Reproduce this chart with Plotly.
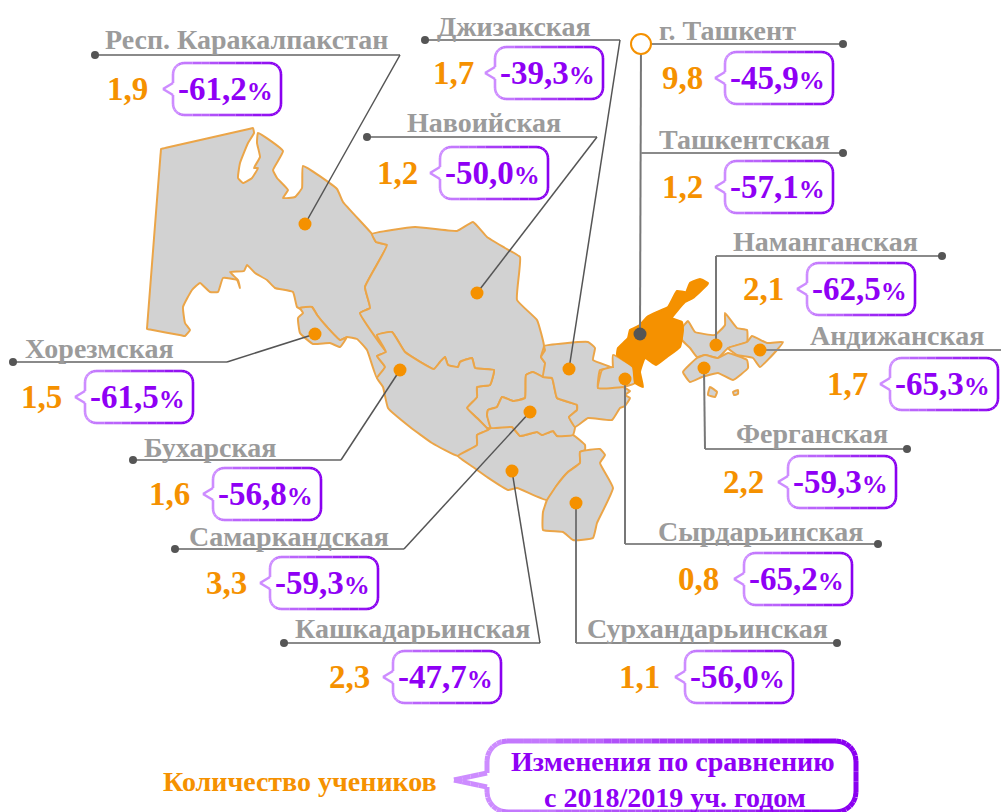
import plotly.graph_objects as go

# ---------- data ----------
regions = ["Респ. Каракалпакстан", "Джизакская", "г. Ташкент", "Ташкентская", "Навоийская",
           "Наманганская", "Андижанская", "Хорезмская", "Ферганская", "Бухарская",
           "Самаркандская", "Сырдарьинская", "Кашкадарьинская", "Сурхандарьинская"]
pupils = ["1,9", "1,7", "9,8", "1,2", "1,2", "2,1", "1,7", "1,5", "2,2", "1,6", "3,3", "0,8", "2,3", "1,1"]
changes = ["-61,2", "-39,3", "-45,9", "-57,1", "-50,0", "-62,5", "-65,3", "-61,5", "-59,3", "-56,8",
           "-59,3", "-65,2", "-47,7", "-56,0"]

# ---------- layout tables (same order as regions) ----------
label_x = [105, 437, 659, 659, 407, 733, 810, 25, 736, 144, 189, 658, 295, 587]
label_y = [39, 26, 30, 139, 122, 241, 335, 348, 433, 447, 536, 531, 628, 628]
value_x = [107, 433, 662, 662, 377, 743, 827, 21, 723, 149, 206, 678, 329, 619]
box_l = [173, 495, 725, 725, 440, 807, 890, 85, 788, 213, 270, 744, 393, 685]
box_t = [63, 47, 52, 161, 147, 263, 358, 371, 456, 468, 557, 553, 651, 651]
BOX_W, BOX_H = 108, 52

leaders = [
    [(95, 55), (400, 55), (305, 224)],
    [(425, 40), (620, 40), (569, 369)],
    [(843, 44), (641, 44), (640, 334)],
    [(843, 153), (641, 153)],
    [(367, 137), (597, 137), (477, 293)],
    [(942, 256), (716, 256), (716, 345)],
    [(1001, 350), (760, 350)],
    [(13, 362), (227, 362), (315, 334)],
    [(907, 449), (705, 449), (704, 368)],
    [(133, 460), (341, 460), (400, 370)],
    [(175, 549), (404, 549), (530, 412)],
    [(878, 544), (625, 544), (625, 379)],
    [(284, 643), (540, 643), (512, 471)],
    [(837, 643), (576, 643), (576, 503)],
]
end_dots_x = [95, 425, 843, 843, 367, 942, 13, 907, 133, 175, 878, 284, 837]
end_dots_y = [55, 40, 44, 153, 137, 256, 362, 449, 460, 549, 544, 643, 643]
map_dots_x = [305, 569, 477, 716, 760, 315, 704, 400, 530, 625, 512, 576]
map_dots_y = [224, 369, 293, 345, 350, 334, 368, 370, 412, 379, 471, 503]

# ---------- map outlines ----------
karakalpak = [(161, 149), (163, 148.5), (166, 147.8), (250, 128.7), (253, 128), (254, 133), (248, 143), (240, 163), (238, 178), (243, 183), (252, 178),
              (258, 168), (254, 168), (260, 157), (257, 143), (258, 133), (283, 151), (273, 170), (277, 178),
              (288, 190), (283, 198), (295, 197), (302, 188), (303, 166), (337, 189), (343, 202), (372, 234),
              (376, 242), (387, 245), (365, 287), (370, 308), (360, 313), (386, 352), (377, 356), (385, 367),
              (377, 378), (367, 350), (357, 339), (347, 337), (340, 340), (327, 327), (317, 315), (312, 307),
              (303, 310), (297, 307), (293, 292), (275, 288), (267, 280), (255, 273), (247, 265), (244, 271),
              (230, 272), (238, 280), (240, 288), (237, 280), (223, 278), (218, 292), (210, 292), (200, 283),
              (192, 290), (183, 307), (185, 323), (190, 330), (185, 336), (181, 335.3), (150, 329.5), (147, 329),
              (147.2, 326), (147.5, 322), (160.5, 155), (160.8, 152)]
khorezm = [(300, 308), (312, 307), (317, 315), (327, 327), (340, 340), (347, 337), (340, 347), (330, 343),
           (313, 344), (300, 333), (298, 318), (303, 313)]
navoi = [(372, 234), (415, 227), (457, 231), (473, 222), (487, 237), (505, 248), (520, 257), (517, 300),
         (537, 320), (544, 346), (541, 357), (545, 363), (543, 377), (533, 372), (526, 375), (525, 398),
         (513, 401), (502, 397), (497, 407), (488, 410), (487, 415), (491, 428), (487, 428), (477, 418),
         (467, 408), (477, 397), (477, 387), (490, 385), (494, 370), (475, 368), (472, 358), (460, 362),
         (458, 367), (448, 365), (445, 357), (440, 362), (434, 369), (405, 352), (392, 332), (377, 335),
         (386, 352), (360, 313), (370, 308), (365, 287), (387, 245), (376, 242)]
bukhara = [(377, 335), (392, 332), (405, 352), (434, 369), (440, 362), (445, 357), (448, 365), (458, 367),
           (460, 362), (472, 358), (475, 368), (494, 370), (490, 385), (477, 387), (477, 397), (467, 408),
           (477, 418), (488, 430), (477, 435), (477, 445), (458, 456), (432, 443), (410, 427), (388, 408),
           (383, 387), (377, 378), (385, 367), (377, 356), (386, 352)]
kashkadarya = [(458, 456), (477, 445), (477, 435), (488, 430), (491, 428), (512, 427), (520, 436), (537, 432),
               (542, 435), (553, 431), (557, 436), (573, 435), (585, 445), (585, 450), (580, 452), (580, 463),
               (568, 472), (557, 485), (547, 500), (517, 488), (508, 490), (487, 477), (473, 467)]
surkhandarya = [(580, 452), (600, 449), (605, 455), (600, 463), (613, 488), (597, 523), (593, 538), (573, 540),
                (563, 532), (543, 530), (543, 512), (547, 500), (557, 485), (568, 472), (580, 463)]
samarkand = [(491, 428), (487, 415), (488, 410), (497, 407), (502, 397), (513, 401), (525, 398), (526, 375),
             (533, 372), (543, 377), (552, 378), (557, 398), (577, 405), (577, 410), (569, 417), (575, 427),
             (573, 435), (557, 436), (553, 431), (542, 435), (537, 432), (520, 436), (512, 427)]
jizzakh = [(544, 346), (588, 342), (595, 348), (593, 360), (613, 368), (600, 370), (598, 388), (618, 385),
           (630, 391), (625, 395), (630, 398), (625, 406), (620, 408), (612, 420), (588, 418), (575, 427),
           (569, 417), (577, 410), (577, 405), (557, 398), (552, 378), (543, 377), (545, 363), (541, 357),
           (545, 350)]
sirdarya = [(613, 355), (633, 367), (635, 383), (623, 387), (598, 388), (602, 370), (613, 367), (613, 368)]
tashkent = [(708, 283), (700, 279), (690, 283), (686, 292), (677, 291), (668, 307), (657, 312), (647, 317),
            (640, 325), (630, 330), (628, 338), (618, 348), (617, 355), (633, 367), (635, 383), (643, 387),
            (640, 372), (645, 358), (656, 365), (667, 357), (680, 347), (683, 330), (682, 322), (672, 318),
            (685, 302), (693, 298), (707, 285)]
namangan = [(682, 328), (688, 321), (695, 332), (715, 335), (725, 325), (725, 313), (737, 328), (747, 330),
            (747, 342), (728, 348), (718, 358), (705, 355), (697, 357), (690, 348), (682, 340)]
andijan = [(728, 348), (747, 342), (752, 336), (767, 343), (783, 342), (777, 350), (760, 367), (753, 358), (737, 355)]
fergana = [(683, 372), (697, 358), (705, 355), (718, 358), (728, 353), (747, 360), (748, 368), (733, 380),
           (718, 373), (702, 377), (690, 382)]
islet_a = [(710, 387), (717, 392), (715, 397), (708, 395)]
islet_b = [(733, 392), (738, 390), (738, 394), (734, 395)]

grey_areas = [karakalpak, navoi, bukhara, khorezm, kashkadarya, surkhandarya, samarkand, jizzakh, sirdarya,
              namangan, andijan, fergana, islet_a, islet_b]

ORANGE = "#f59100"
EDGE = "#eba548"
PURPLE = "#8f00f5"
GREY = "#9b9b9b"
SERIF = "Liberation Serif"

fig = go.Figure()


def closed(poly):
    xs = [p[0] for p in poly] + [poly[0][0]]
    ys = [p[1] for p in poly] + [poly[0][1]]
    return xs, ys


for poly in grey_areas:
    x, y = closed(poly)
    fig.add_trace(go.Scatter(x=x, y=y, mode="lines", fill="toself", fillcolor="#d2d2d2",
                             line=dict(color=EDGE, width=2, shape="spline", smoothing=0.35), hoverinfo="skip"))
x, y = closed(tashkent)
fig.add_trace(go.Scatter(x=x, y=y, mode="lines", fill="toself", fillcolor=ORANGE,
                         line=dict(color=ORANGE, width=2, shape="spline", smoothing=0.35), hoverinfo="skip"))

# leader lines
for path in leaders:
    fig.add_trace(go.Scatter(x=[p[0] for p in path[:2]], y=[p[1] for p in path[:2]], mode="lines",
                             line=dict(color="#8a8a8a", width=2), hoverinfo="skip"))
    if len(path) > 2:
        vertical = abs(path[1][0] - path[2][0]) < 3
        fig.add_trace(go.Scatter(x=[p[0] for p in path[1:]], y=[p[1] for p in path[1:]], mode="lines",
                                 line=dict(color="#777777" if vertical else "#555555", width=2 if vertical else 1.5),
                                 hoverinfo="skip"))

fig.add_trace(go.Scatter(x=end_dots_x, y=end_dots_y, mode="markers",
                         marker=dict(color="#555555", size=8), hoverinfo="skip"))
fig.add_trace(go.Scatter(x=map_dots_x, y=map_dots_y, mode="markers",
                         marker=dict(color=ORANGE, size=13), hoverinfo="skip"))
fig.add_trace(go.Scatter(x=[640], y=[334], mode="markers",
                         marker=dict(color="#555555", size=13), hoverinfo="skip"))
fig.add_trace(go.Scatter(x=[641], y=[44], mode="markers",
                         marker=dict(color="white", size=20, line=dict(color=ORANGE, width=2)), hoverinfo="skip"))


# gradient callouts
def arc(cx, cy, r, a0, a1, n=6):
    import math
    return [(cx + r * math.cos(math.radians(a0 + (a1 - a0) * i / n)),
             cy + r * math.sin(math.radians(a0 + (a1 - a0) * i / n))) for i in range(n + 1)]


def callout(l, t, r, b, rad, tipx, tipy, tiph):
    pts = arc(l + rad, t + rad, rad, 180, 270)
    pts += arc(r - rad, t + rad, rad, 270, 360)
    pts += arc(r - rad, b - rad, rad, 0, 90)
    pts += arc(l + rad, b - rad, rad, 90, 180)
    pts += [(l, tipy + tiph), (tipx, tipy), (l, tipy - tiph)]
    pts.append(pts[0])
    return pts


def band_segments(pts, l, r, nbands):
    bands = [([], []) for _ in range(nbands)]
    for (x0, y0), (x1, y1) in zip(pts[:-1], pts[1:]):
        steps = max(1, int(max(abs(x1 - x0), abs(y1 - y0)) / 8))
        for s in range(steps):
            ax, ay = x0 + (x1 - x0) * s / steps, y0 + (y1 - y0) * s / steps
            bx, by = x0 + (x1 - x0) * (s + 1) / steps, y0 + (y1 - y0) * (s + 1) / steps
            f = min(max(((ax + bx) / 2 - l) / (r - l), 0), 0.999)
            k = int(f * nbands)
            bands[k][0].extend([ax, bx, None])
            bands[k][1].extend([ay, by, None])
    return bands


def band_colour(k, n):
    f = k / (n - 1)
    c0, c1 = (205, 140, 255), (138, 0, 240)
    return "rgb(%d,%d,%d)" % tuple(round(a + (b - a) * f) for a, b in zip(c0, c1))


NB = 8
merged = [([], []) for _ in range(NB)]
for l, t in zip(box_l, box_t):
    pts = callout(l, t, l + BOX_W, t + BOX_H, 11, l - 10, t + 26, 6)
    for k, (bx, by) in enumerate(band_segments(pts, l - 10, l + BOX_W, NB)):
        merged[k][0].extend(bx)
        merged[k][1].extend(by)
for k, (bx, by) in enumerate(merged):
    fig.add_trace(go.Scatter(x=bx, y=by, mode="lines", line=dict(color=band_colour(k, NB), width=2.6),
                             hoverinfo="skip"))

pts = callout(487, 741, 856, 812, 20, 454, 780, 7)
for k, (bx, by) in enumerate(band_segments(pts, 454, 856, NB)):
    fig.add_trace(go.Scatter(x=bx, y=by, mode="lines", line=dict(color=band_colour(k, NB), width=5),
                             hoverinfo="skip"))

# texts
ann = []
for i, name in enumerate(regions):
    ann.append(dict(x=label_x[i], y=label_y[i], text=name, xanchor="left", yanchor="middle", showarrow=False,
                    xshift=-2, font=dict(family=SERIF, size=28, color=GREY, weight=700)))
    ann.append(dict(x=value_x[i], y=box_t[i] + 26, text=pupils[i], xanchor="left", yanchor="middle", showarrow=False,
                    xshift=-2, font=dict(family=SERIF, size=33, color=ORANGE, weight=700)))
    ann.append(dict(x=box_l[i] + BOX_W / 2 - 2, y=box_t[i] + 26,
                    text=changes[i] + '<span style="font-size:26px">%</span>',
                    xanchor="center", yanchor="middle", showarrow=False,
                    font=dict(family=SERIF, size=33, color=PURPLE, weight=700)))
ann.append(dict(x=163, y=781, text="Количество учеников", xanchor="left", yanchor="middle", showarrow=False,
                xshift=-2, font=dict(family=SERIF, size=28, color=ORANGE, weight=700)))
ann.append(dict(x=673, y=761, text="Изменения по сравнению", xanchor="center", yanchor="middle", showarrow=False,
                font=dict(family=SERIF, size=28, color=PURPLE, weight=700)))
ann.append(dict(x=675, y=797, text="с 2018/2019 уч. годом", xanchor="center", yanchor="middle", showarrow=False,
                font=dict(family=SERIF, size=28, color=PURPLE, weight=700)))

fig.update_layout(width=1001, height=812, margin=dict(l=0, r=0, t=0, b=0), showlegend=False,
                  paper_bgcolor="white", plot_bgcolor="white", annotations=ann,
                  xaxis=dict(range=[0, 1001], visible=False, fixedrange=True),
                  yaxis=dict(range=[812, 0], visible=False, fixedrange=True))
fig.write_html("out.html", config={"displayModeBar": False},
               post_script="document.body.style.margin='0';document.body.style.overflow='hidden';")
